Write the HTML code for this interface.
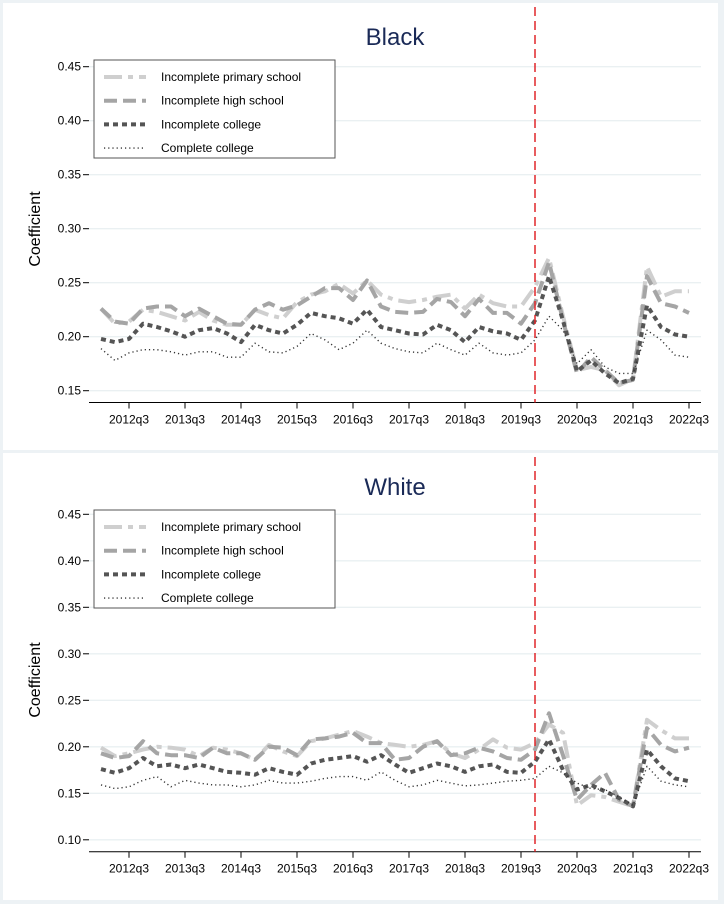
<!DOCTYPE html>
<html><head><meta charset="utf-8">
<style>
html,body{margin:0;padding:0;background:#edf2f5;}
svg{display:block;font-family:"Liberation Sans",Arial,sans-serif;}
</style></head>
<body>
<svg id="chart" width="724" height="904" viewBox="0 0 724 904" xmlns="http://www.w3.org/2000/svg"></svg>
<script>
const quarters = ["2012q1","2012q2","2012q3","2012q4","2013q1","2013q2","2013q3","2013q4","2014q1","2014q2","2014q3","2014q4","2015q1","2015q2","2015q3","2015q4","2016q1","2016q2","2016q3","2016q4","2017q1","2017q2","2017q3","2017q4","2018q1","2018q2","2018q3","2018q4","2019q1","2019q2","2019q3","2019q4","2020q1","2020q2","2020q3","2020q4","2021q1","2021q2","2021q3","2021q4","2022q1","2022q2","2022q3"];
const xTickLabels = ["2012q3","2013q3","2014q3","2015q3","2016q3","2017q3","2018q3","2019q3","2020q3","2021q3","2022q3"];
const seriesNames = ["Incomplete primary school","Incomplete high school","Incomplete college","Complete college"];
const eventQuarter = "2019q4";
const blackPrimary = [0.226,0.212,0.214,0.225,0.223,0.219,0.215,0.223,0.215,0.211,0.211,0.225,0.220,0.217,0.232,0.239,0.242,0.249,0.240,0.252,0.239,0.234,0.232,0.234,0.237,0.239,0.226,0.239,0.231,0.228,0.228,0.246,0.273,0.219,0.169,0.172,0.169,0.155,0.161,0.265,0.237,0.242,0.242];
const blackHigh = [0.226,0.214,0.212,0.226,0.228,0.228,0.219,0.226,0.219,0.212,0.211,0.225,0.231,0.225,0.229,0.237,0.245,0.245,0.234,0.252,0.228,0.223,0.222,0.223,0.235,0.232,0.219,0.235,0.222,0.222,0.212,0.231,0.269,0.215,0.166,0.181,0.169,0.157,0.160,0.256,0.231,0.228,0.222];
const blackIncCollege = [0.198,0.195,0.198,0.212,0.209,0.205,0.200,0.206,0.208,0.203,0.195,0.211,0.206,0.203,0.211,0.222,0.219,0.217,0.212,0.225,0.209,0.206,0.203,0.202,0.211,0.206,0.195,0.209,0.205,0.203,0.197,0.215,0.256,0.215,0.168,0.178,0.166,0.157,0.161,0.229,0.209,0.202,0.200];
const blackCompCollege = [0.189,0.178,0.185,0.188,0.188,0.186,0.183,0.186,0.186,0.181,0.181,0.194,0.186,0.185,0.191,0.203,0.197,0.188,0.194,0.206,0.194,0.189,0.186,0.185,0.194,0.188,0.183,0.194,0.185,0.183,0.185,0.197,0.219,0.206,0.175,0.188,0.172,0.166,0.166,0.206,0.197,0.183,0.181];
const whitePrimary = [0.199,0.190,0.193,0.197,0.200,0.199,0.197,0.190,0.199,0.197,0.193,0.186,0.202,0.195,0.190,0.206,0.209,0.213,0.217,0.211,0.204,0.202,0.200,0.202,0.206,0.193,0.188,0.197,0.208,0.199,0.197,0.204,0.224,0.215,0.137,0.148,0.146,0.141,0.136,0.229,0.218,0.209,0.209];
const whiteHigh = [0.193,0.188,0.190,0.206,0.193,0.191,0.191,0.188,0.199,0.193,0.193,0.186,0.200,0.199,0.191,0.208,0.209,0.211,0.215,0.204,0.204,0.186,0.188,0.200,0.206,0.191,0.193,0.199,0.195,0.188,0.186,0.197,0.236,0.191,0.143,0.159,0.172,0.143,0.136,0.220,0.202,0.195,0.199];
const whiteIncCollege = [0.176,0.172,0.177,0.188,0.179,0.181,0.177,0.181,0.177,0.173,0.172,0.170,0.177,0.173,0.170,0.182,0.186,0.188,0.190,0.184,0.191,0.181,0.172,0.177,0.182,0.179,0.173,0.179,0.181,0.173,0.172,0.184,0.208,0.175,0.154,0.159,0.152,0.145,0.136,0.197,0.179,0.166,0.163];
const whiteCompCollege = [0.159,0.155,0.157,0.164,0.168,0.157,0.164,0.161,0.159,0.159,0.157,0.159,0.164,0.161,0.161,0.163,0.166,0.168,0.168,0.164,0.173,0.164,0.157,0.159,0.164,0.161,0.158,0.159,0.161,0.163,0.164,0.166,0.179,0.172,0.161,0.155,0.154,0.146,0.137,0.179,0.163,0.159,0.157];
const blackYTicks = [0.15,0.20,0.25,0.30,0.35,0.40,0.45];
const whiteYTicks = [0.10,0.15,0.20,0.25,0.30,0.35,0.40,0.45];

const NS = "http://www.w3.org/2000/svg";
const svg = document.getElementById("chart");
function mk(tag, attrs, parent){const e=document.createElementNS(NS,tag);for(const k in attrs)e.setAttribute(k,attrs[k]);(parent||svg).appendChild(e);return e;}
const styles = [
  {stroke:"#cfcfcf",w:4,dash:"18 6 5 6"},
  {stroke:"#a5a5a5",w:4,dash:"13 6"},
  {stroke:"#555555",w:4,dash:"5 4"},
  {stroke:"#333333",w:1.4,dash:"1.2 3"}
];
const xOf = i => 101 + i*14;

function panel(cfg){
  const g = mk("g",{});
  
  
  const bg = mk("rect",{x:3,y:cfg.top,width:715,height:cfg.h,fill:"#ffffff"},g);
  
  
  const yOf = v => cfg.y0 - (v-0.15)*cfg.k;
  const t = mk("text",{x:395,y:cfg.top+42,"text-anchor":"middle","font-size":"24",fill:"#1a2a57"},g);
  t.textContent = cfg.title;
  
  
  const yl = mk("text",{x:0,y:0,"text-anchor":"middle","font-size":"16",fill:"#000",transform:`translate(40,${cfg.ylab}) rotate(-90)`},g);
  yl.textContent = "Coefficient";
  
  
  cfg.yt.forEach(v=>{
    const y = yOf(v);
    const gl = mk("line",{x1:89,x2:701,y1:y,y2:y,stroke:"#eaf0f2","stroke-width":1.3},g);
    
    
    mk("line",{x1:83,x2:89,y1:y,y2:y,stroke:"#000","stroke-width":1},g);
    const tl = mk("text",{x:81,y:y+4,"text-anchor":"end","font-size":"12",fill:"#000"},g);
    tl.textContent = v.toFixed(2);
    
    
  });
  const ax = mk("line",{x1:89,x2:701,y1:cfg.axY,y2:cfg.axY,stroke:"#000","stroke-width":1},g);
  
  
  xTickLabels.forEach(lab=>{
    const x = xOf(quarters.indexOf(lab));
    mk("line",{x1:x,x2:x,y1:cfg.axY,y2:cfg.axY+6,stroke:"#000","stroke-width":1},g);
    const tl = mk("text",{x:x,y:cfg.axY+21,"text-anchor":"middle","font-size":"12",fill:"#000"},g);
    tl.textContent = lab;
    
    
  });
  cfg.series.forEach((arr,si)=>{
    const st = styles[si];
    const p = mk("polyline",{points:arr.map((v,i)=>xOf(i)+","+yOf(v).toFixed(1)).join(" "),fill:"none",stroke:st.stroke,"stroke-width":st.w,"stroke-dasharray":st.dash,"stroke-linejoin":"round"},g);
    
    
  });
  const ex = xOf(quarters.indexOf(eventQuarter));
  const rl = mk("line",{x1:ex,x2:ex,y1:cfg.top+4,y2:cfg.axY,stroke:"#e0262a","stroke-width":1.5,"stroke-dasharray":"9 5"},g);
  
  
  const lg = mk("g",{},g);
  
  
  const ly = cfg.legTop;
  mk("rect",{x:94,y:ly,width:241,height:98,fill:"#fff",stroke:"#555","stroke-width":1},lg);
  seriesNames.forEach((n,si)=>{
    const y = ly+17+si*23.7;
    const st = styles[si];
    const ent = mk("g",{},lg);
    
    
    mk("line",{x1:104,x2:146,y1:y,y2:y,stroke:st.stroke,"stroke-width":st.w,"stroke-dasharray":st.dash},ent);
    const tx = mk("text",{x:161,y:y+4,"font-size":"12",fill:"#000"},ent);
    tx.textContent = n;
  });
}
panel({name:"black",title:"Black",top:3,h:447,y0:390.7,k:1080,axY:402.5,yt:blackYTicks,ylab:229,legTop:60,
  series:[blackPrimary,blackHigh,blackIncCollege,blackCompCollege]});
panel({name:"white",title:"White",top:453,h:447,y0:793.3,k:930,axY:851.7,yt:whiteYTicks,ylab:680,legTop:510,
  series:[whitePrimary,whiteHigh,whiteIncCollege,whiteCompCollege]});
</script>
</body></html>
